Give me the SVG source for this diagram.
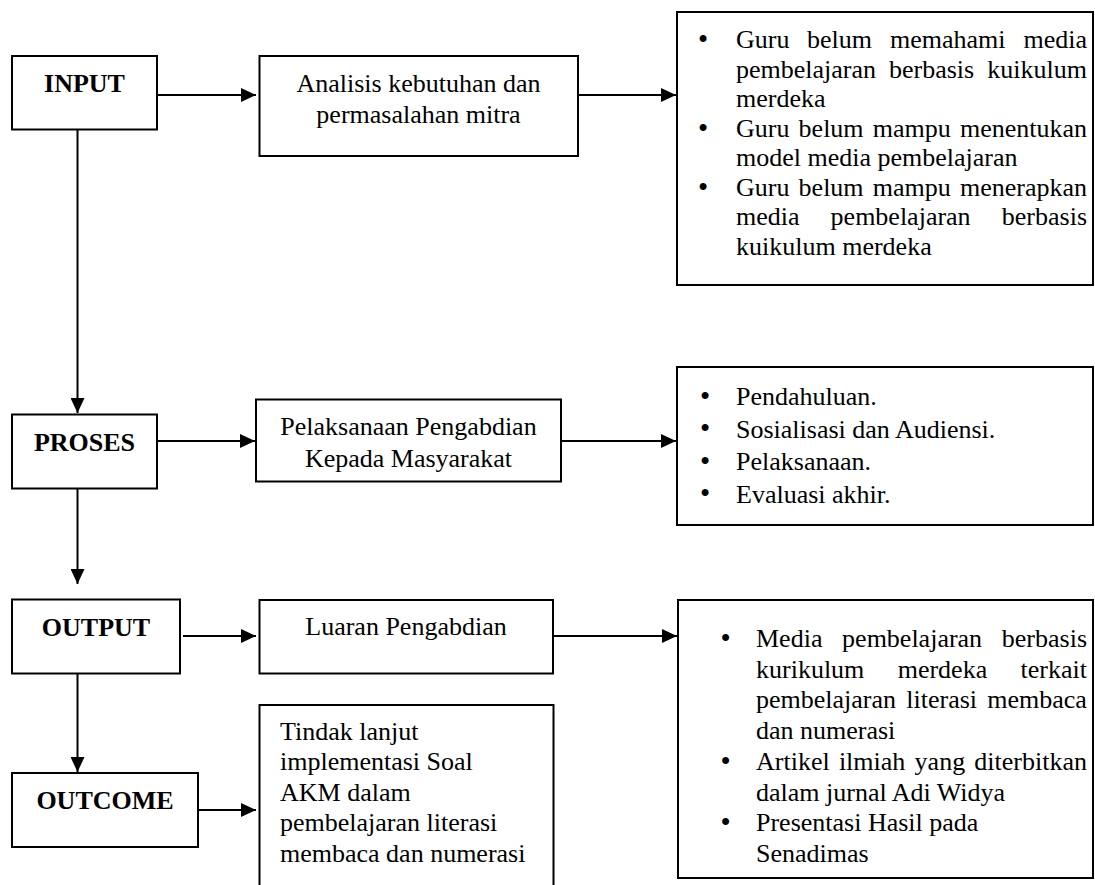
<svg xmlns="http://www.w3.org/2000/svg" width="1095" height="885" viewBox="0 0 1095 885">
<style>
.box{fill:#fff;stroke:#000;stroke-width:2}
.t{font-family:"Liberation Serif","Times New Roman",serif;font-size:26px;fill:#000}
.b{font-weight:bold}
.c{text-anchor:middle}
.bu{font-family:"Liberation Serif","Times New Roman",serif;font-size:29px;fill:#000;text-anchor:middle}
.con{fill:none;stroke:#000;stroke-width:2}
</style>
<defs>
<marker id="ah" markerUnits="userSpaceOnUse" viewBox="0 0 15 14" refX="15" refY="7" markerWidth="15" markerHeight="14" orient="auto">
<path d="M0,0 L15,7 L0,14 z" fill="#000"/>
</marker>
</defs>
<rect width="1095" height="885" fill="#fff"/>
<g id="connectors">
<path class="con" d="M157,95 H256" marker-end="url(#ah)"/>
<path class="con" d="M578,95 H676" marker-end="url(#ah)"/>
<path class="con" d="M77.5,129.5 V413" marker-end="url(#ah)"/>
<path class="con" d="M157,441 H255" marker-end="url(#ah)"/>
<path class="con" d="M561,441 H676" marker-end="url(#ah)"/>
<path class="con" d="M77.5,488.5 V584" marker-end="url(#ah)"/>
<path class="con" d="M183,636 H256" marker-end="url(#ah)"/>
<path class="con" d="M553,636 H677" marker-end="url(#ah)"/>
<path class="con" d="M77.5,673.5 V772" marker-end="url(#ah)"/>
<path class="con" d="M198,810 H256" marker-end="url(#ah)"/>
</g>
<g id="input">
<rect class="box" x="12" y="56" width="145" height="73.5"/>
<text class="t b c" x="84.5" y="91.7">INPUT</text>
</g>
<g id="analisis">
<rect class="box" x="259.5" y="56" width="318.5" height="100"/>
<text class="t c" x="418.5" y="91.7">Analisis kebutuhan dan</text>
<text class="t c" x="418.5" y="123">permasalahan mitra</text>
</g>
<g id="masalah">
<rect class="box" x="677" y="12" width="416" height="273"/>
<text class="bu" x="703" y="49">•</text>
<text class="t" y="48.3"><tspan x="736">Guru</tspan><tspan x="807">belum</tspan><tspan x="890">memahami</tspan><tspan x="1023.5">media</tspan></text>
<text class="t" y="77.8"><tspan x="736">pembelajaran</tspan><tspan x="889">berbasis</tspan><tspan x="987.2">kuikulum</tspan></text>
<text class="t" x="736" y="107.3">merdeka</text>
<text class="bu" x="703" y="137.5">•</text>
<text class="t" y="136.8"><tspan x="736">Guru</tspan><tspan x="798.6">belum</tspan><tspan x="872.8">mampu</tspan><tspan x="960">menentukan</tspan></text>
<text class="t" x="736" y="166.3">model media pembelajaran</text>
<text class="bu" x="703" y="196.5">•</text>
<text class="t" y="195.8"><tspan x="736">Guru</tspan><tspan x="798.6">belum</tspan><tspan x="872.8">mampu</tspan><tspan x="960">menerapkan</tspan></text>
<text class="t" y="225.3"><tspan x="736">media</tspan><tspan x="830.6">pembelajaran</tspan><tspan x="1001.8">berbasis</tspan></text>
<text class="t" x="736" y="254.8">kuikulum merdeka</text>
</g>
<g id="proses">
<rect class="box" x="12" y="414.5" width="145" height="74"/>
<text class="t b c" x="84.5" y="450.7">PROSES</text>
</g>
<g id="pelaksanaan">
<rect class="box" x="256" y="399.5" width="305" height="82"/>
<text class="t c" x="408.5" y="435">Pelaksanaan Pengabdian</text>
<text class="t c" x="408.5" y="467.3">Kepada Masyarakat</text>
</g>
<g id="tahapan">
<rect class="box" x="677" y="367" width="416" height="158"/>
<text class="bu" x="705" y="405.7">•</text>
<text class="t" x="736" y="405">Pendahuluan.</text>
<text class="bu" x="705" y="438.2">•</text>
<text class="t" x="736" y="437.5">Sosialisasi dan Audiensi.</text>
<text class="bu" x="705" y="470.7">•</text>
<text class="t" x="736" y="470">Pelaksanaan.</text>
<text class="bu" x="705" y="503.2">•</text>
<text class="t" x="736" y="502.5">Evaluasi akhir.</text>
</g>
<g id="output">
<rect class="box" x="12" y="599.5" width="168" height="74"/>
<text class="t b c" x="96" y="636">OUTPUT</text>
</g>
<g id="luaran">
<rect class="box" x="259.5" y="600" width="293.5" height="73.5"/>
<text class="t c" x="406" y="635">Luaran Pengabdian</text>
</g>
<g id="hasil">
<rect class="box" x="678" y="600" width="415" height="278"/>
<text class="bu" x="725.5" y="647.7">•</text>
<text class="t" y="647"><tspan x="756">Media</tspan><tspan x="842.1">pembelajaran</tspan><tspan x="1001.8">berbasis</tspan></text>
<text class="t" y="677.7"><tspan x="756">kurikulum</tspan><tspan x="897.7">merdeka</tspan><tspan x="1020.6">terkait</tspan></text>
<text class="t" y="708.4"><tspan x="756">pembelajaran</tspan><tspan x="906.3">literasi</tspan><tspan x="987.3">membaca</tspan></text>
<text class="t" x="756" y="739.1">dan numerasi</text>
<text class="bu" x="725.5" y="770.5">•</text>
<text class="t" y="769.8"><tspan x="756">Artikel</tspan><tspan x="838.9">ilmiah</tspan><tspan x="914.6">yang</tspan><tspan x="974.3">diterbitkan</tspan></text>
<text class="t" x="756" y="800.5">dalam jurnal Adi Widya</text>
<text class="bu" x="725.5" y="831.9">•</text>
<text class="t" x="756" y="831.2">Presentasi Hasil pada</text>
<text class="t" x="756" y="861.9">Senadimas</text>
</g>
<g id="outcome">
<rect class="box" x="12" y="773" width="186" height="74"/>
<text class="t b c" x="105" y="809.3">OUTCOME</text>
</g>
<g id="tindak">
<rect class="box" x="259.5" y="705" width="294" height="200"/>
<text class="t" x="280" y="739.5">Tindak lanjut</text>
<text class="t" x="280" y="770">implementasi Soal</text>
<text class="t" x="280" y="800.5">AKM dalam</text>
<text class="t" x="280" y="831">pembelajaran literasi</text>
<text class="t" x="280" y="861.5">membaca dan numerasi</text>
</g>
</svg>
